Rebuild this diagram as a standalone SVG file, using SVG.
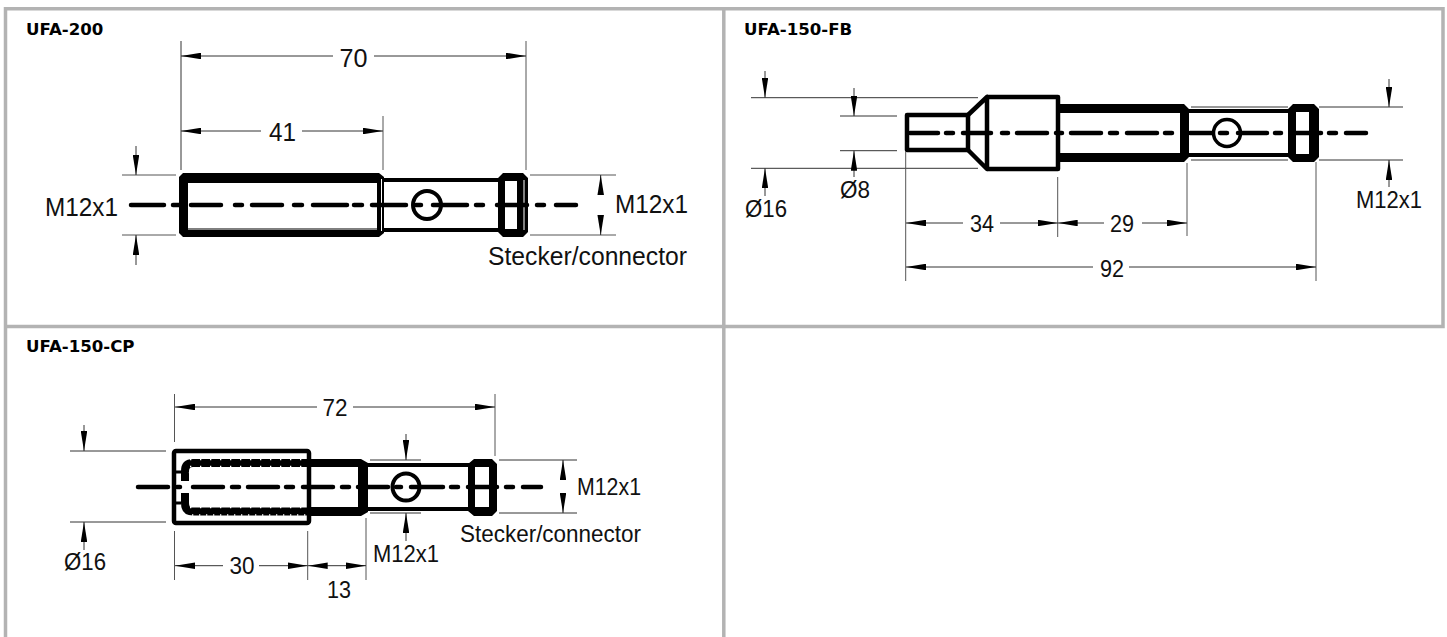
<svg xmlns="http://www.w3.org/2000/svg" width="1447" height="637" viewBox="0 0 1447 637">
<style>
text{font-family:"Liberation Sans",Arial,sans-serif;fill:#111}
.t{font-family:"DejaVu Sans",sans-serif;font-weight:700;font-size:16.600px;fill:#000}
.a{font-size:26.500px}.b{font-size:23px}.g{font-size:24px}
.f{stroke:#b3b3b3;stroke-width:3.5;fill:none}
.d{stroke:#333;stroke-width:1;fill:none}
.e{stroke:#555;stroke-width:1;fill:none}
.ar{marker-end:url(#h)}.as{marker-start:url(#h)}
.c{stroke:#000;stroke-width:4.500;stroke-linecap:round;fill:none}
.o{stroke:#000;fill:none;stroke-linejoin:round}
.s{fill:#000}
.w{stroke:#fff;fill:none}
</style>
<defs>
<marker id="h" markerUnits="userSpaceOnUse" markerWidth="20" markerHeight="6.500" refX="20" refY="3.250" orient="auto-start-reverse"><path d="M0 0L20 3.250L0 6.500z" fill="#000"/></marker>
</defs>
<rect width="1447" height="637" fill="#fff"/>
<g id="frame">
<path class="f" d="M5.500 637V8.800H1443V326.500H5.500M723.800 8.800V637"/>
</g>
<g id="ufa-200">
<text class="t" x="26" y="35">UFA-200</text>
<path class="s" d="M183 173H379L384 177V233L379 237H183L179 233V177ZM188 183V228H377V183Z" fill-rule="evenodd"/>
<path class="w" d="M188 229H377M381.500 179V231" stroke-width="1"/>
<path class="o" stroke-width="4" d="M383 180H498M383 230H498"/>
<path class="s" d="M503 173H523L528 178V232L523 237H503L498 232V178ZM505 181V229H517V181Z" fill-rule="evenodd"/>
<path class="w" d="M524 180V230" stroke-width="1"/>
<circle class="o" cx="427" cy="205" r="14" stroke-width="4"/>
<path class="c" d="M131 205H164M173 205H179M191 205H221M235 205H242M252 205H282M294 205H302M313 205H347M354 205H362M372 205H406M416 205H421M433 205H467M476 205H483M497 205H527M537 205H544M556 205H576"/>
<text class="a" x="339.500" y="66.500" textLength="28" lengthAdjust="spacingAndGlyphs">70</text>
<text class="a" x="269" y="141" textLength="27" lengthAdjust="spacingAndGlyphs">41</text>
<text class="a" x="45" y="216" textLength="73" lengthAdjust="spacingAndGlyphs">M12x1</text>
<text class="a" x="615" y="213" textLength="73" lengthAdjust="spacingAndGlyphs">M12x1</text>
<text class="a" x="488" y="265" textLength="199" lengthAdjust="spacingAndGlyphs">Stecker/connector</text>
</g>
<g id="ufa-150-fb">
<text class="t" x="744" y="35">UFA-150-FB</text>
<path class="o" stroke-width="4.500" d="M907 115H968V150H907Z"/>
<path class="o" stroke-width="4.500" d="M968 115L987 97V169L968 150"/>
<path class="o" stroke-width="4.500" d="M987 97H1058V169H987"/>
<path class="s" d="M1058 104H1184L1189 109V157L1184 162H1058V153H1180V113H1058Z"/>
<path class="o" stroke-width="4" d="M1189 111H1288M1189 155H1288"/>
<path class="s" d="M1293 104H1314L1319 109V157L1314 162H1293L1288 157V109ZM1296 112V154H1309V112Z" fill-rule="evenodd"/>
<circle class="o" cx="1227" cy="133" r="13.500" stroke-width="3.500"/>
<path class="c" d="M910 133H938M946 133H953M963 133H991M1002 133H1008M1017 133H1047M1056 133H1062M1071 133H1101M1110 133H1117M1127 133H1157M1165 133H1172M1190 133H1212M1220 133H1227M1238 133H1267M1275 133H1281M1292 133H1321M1329 133H1336M1346 133H1366"/>
<text class="b" x="745" y="217" textLength="42" lengthAdjust="spacingAndGlyphs">Ø16</text>
<text class="b" x="840" y="198" textLength="30" lengthAdjust="spacingAndGlyphs">Ø8</text>
<text class="b" x="970" y="232" textLength="24" lengthAdjust="spacingAndGlyphs">34</text>
<text class="b" x="1110" y="232" textLength="24" lengthAdjust="spacingAndGlyphs">29</text>
<text class="b" x="1100" y="277" textLength="24" lengthAdjust="spacingAndGlyphs">92</text>
<text class="b" x="1356" y="208" textLength="66" lengthAdjust="spacingAndGlyphs">M12x1</text>
</g>
<g id="ufa-150-cp">
<text class="t" x="26" y="352">UFA-150-CP</text>
<rect class="o" x="174" y="451" width="135" height="72" rx="2" stroke-width="4.500"/>
<path class="o" stroke-width="8" d="M307 463H193Q185 463 185 471V481M185 493V503Q185 511.500 193 511.500H307"/>
<path class="o" stroke-width="3" d="M174 472H181M174 487H181M174 503H181"/>
<path class="w" stroke-width="1.300" stroke-dasharray="1.300 8.700" d="M190 459.700H307M190 466.500H307M190 507.500H307M189.500 472V500"/>
<path class="w" stroke-width="1.300" stroke-dasharray="1.300 5.700" d="M192 515H307"/>
<path class="s" d="M311 459H361L368 463V512L361 516H311V507H358V467H311Z"/>
<path class="o" stroke-width="4" d="M368 465H470M368 509H470"/>
<path class="s" d="M474 459H492L497 464V511L492 516H474L468 511V464ZM475 467V507H489V467Z" fill-rule="evenodd"/>
<circle class="o" cx="406" cy="487" r="13.500" stroke-width="4"/>
<path class="c" d="M138 487H168M177 487H180M193 487H223M232 487H239M248 487H278M286 487H293M303 487H333M342 487H349M358 487H388M396 487H401M411 487H443M451 487H458M468 487H497M506 487H513M523 487H541"/>
<text class="g" x="322.500" y="416" textLength="25" lengthAdjust="spacingAndGlyphs">72</text>
<text class="b" x="64" y="570" textLength="42" lengthAdjust="spacingAndGlyphs">Ø16</text>
<text class="g" x="229.500" y="574" textLength="25" lengthAdjust="spacingAndGlyphs">30</text>
<text class="b" x="327" y="598" textLength="24" lengthAdjust="spacingAndGlyphs">13</text>
<text class="b" x="577" y="495" textLength="64" lengthAdjust="spacingAndGlyphs">M12x1</text>
<text class="b" x="373" y="562" textLength="66" lengthAdjust="spacingAndGlyphs">M12x1</text>
<text class="g" x="460" y="542" textLength="181" lengthAdjust="spacingAndGlyphs">Stecker/connector</text>
</g>
<g id="connectors">
<path class="d" d="M181 41V170"/>
<path class="e" d="M526 41V170M383 116V170M122 175H176M122 235H176M530 175H616M530 235H616"/>
<path class="d as" d="M181 56H333"/><path class="d ar" d="M374 56H526"/>
<path class="d as" d="M181 131H261"/><path class="d ar" d="M302 131H383"/>
<path class="d ar" d="M136 146V175"/><path class="d ar" d="M136 265V235"/>
<path class="d ar" d="M600.700 195V175"/><path class="d ar" d="M600.700 215V235"/>
<path class="d" d="M751 97.700H978M751 168.300H978M840 116H897M840 150.700H897M1319 107H1403M1319 160H1403M1191 107H1288M1191 160H1288"/>
<path class="e" d="M905.700 152V281M1057.700 177V237M1187 163V236M1316 162V281"/>
<path class="d ar" d="M765 71V97.700"/><path class="d ar" d="M765 196V168.300"/>
<path class="d ar" d="M854 88V116"/><path class="d ar" d="M854 177V150.700"/>
<path class="d ar" d="M1389 79V107"/><path class="d ar" d="M1389 187V160"/>
<path class="d as" d="M906 223H963"/><path class="d ar" d="M1000 223H1057.700"/>
<path class="d as" d="M1057.700 223H1104"/><path class="d ar" d="M1142 223H1187"/>
<path class="d as" d="M906 267H1093"/><path class="d ar" d="M1129 267H1316"/>
<path class="d" d="M70 451H166M70 522H166M499 460H577M499 513H577M370 460H421M370 513H421"/>
<path class="e" d="M174.500 394V442M495 394V456M174.500 531V580M307.700 531V580M366 518V580"/>
<path class="d as" d="M175 407H317"/><path class="d ar" d="M353 407H495"/>
<path class="d ar" d="M84 425V451"/><path class="d ar" d="M84 550V522"/>
<path class="d as" d="M175 565.700H223"/><path class="d ar" d="M259 565.700H307.700"/>
<path class="d as" d="M307.700 565.700H345"/><path class="d ar" d="M345 565.700H366"/>
<path class="d ar" d="M563 479V460"/><path class="d ar" d="M563 494V513"/>
<path class="d ar" d="M406 434V460"/><path class="d ar" d="M406 541V513"/>
</g>
</svg>
